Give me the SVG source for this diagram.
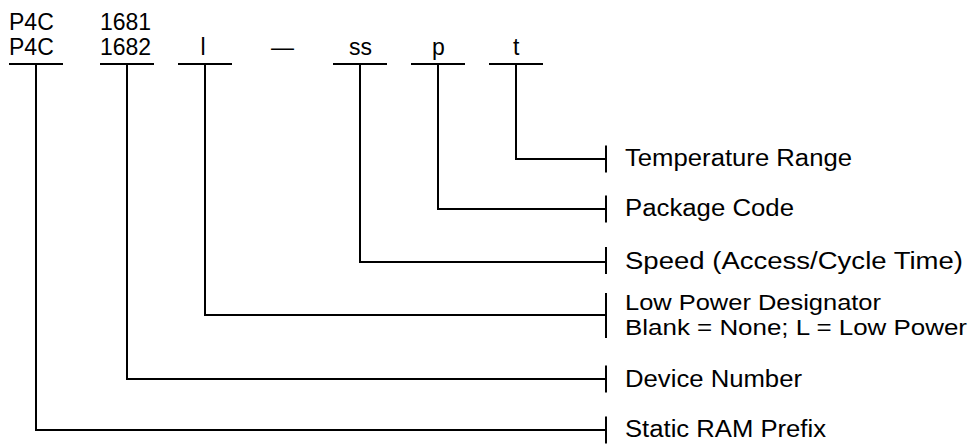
<svg xmlns="http://www.w3.org/2000/svg" width="969" height="444" viewBox="0 0 969 444">
<style>
.code{font-family:"Liberation Sans",Arial,sans-serif;font-size:23px;fill:#000}
.lbl{font-family:"Liberation Sans",Arial,sans-serif;font-size:23px;fill:#000}
.lbl2{font-family:"Liberation Sans",Arial,sans-serif;font-size:21.5px;fill:#000}
.ln{stroke:#000;stroke-width:2;fill:none}
</style>
<rect width="969" height="444" fill="#fff"/>
<g id="code-prefix">
<text class="code" x="9" y="30">P4C</text>
<text class="code" x="9" y="55">P4C</text>
<line class="ln" x1="9" y1="64" x2="63" y2="64"/>
</g>
<g id="code-device">
<text class="code" x="100" y="30">1681</text>
<text class="code" x="100" y="55">1682</text>
<line class="ln" x1="100" y1="64" x2="154" y2="64"/>
</g>
<g id="code-lowpower">
<text class="code" x="200.5" y="55">l</text>
<line class="ln" x1="178" y1="64" x2="232" y2="64"/>
</g>
<g id="code-dash">
<text class="code" x="271" y="55">—</text>
</g>
<g id="code-speed">
<text class="code" x="349" y="55">ss</text>
<line class="ln" x1="333" y1="64" x2="387" y2="64"/>
</g>
<g id="code-package">
<text class="code" x="432" y="55">p</text>
<line class="ln" x1="411" y1="64" x2="465" y2="64"/>
</g>
<g id="code-temp">
<text class="code" x="513" y="55">t</text>
<line class="ln" x1="489" y1="64" x2="543" y2="64"/>
</g>
<g id="connectors">
<path class="ln" d="M516 64 V159 H606"/>
<path class="ln" d="M438 64 V209 H606"/>
<path class="ln" d="M360 64 V262 H606"/>
<path class="ln" d="M205 64 V315 H606"/>
<path class="ln" d="M127 64 V379 H606"/>
<path class="ln" d="M36 64 V430 H606"/>
</g>
<g id="label-temp">
<line class="ln" x1="606" y1="145.5" x2="606" y2="172.5"/>
<text class="lbl" x="625" y="166" textLength="227" lengthAdjust="spacingAndGlyphs">Temperature Range</text>
</g>
<g id="label-package">
<line class="ln" x1="606" y1="195.5" x2="606" y2="222.5"/>
<text class="lbl" x="625" y="216" textLength="169" lengthAdjust="spacingAndGlyphs">Package Code</text>
</g>
<g id="label-speed">
<line class="ln" x1="606" y1="247" x2="606" y2="274"/>
<text class="lbl" x="625" y="269" textLength="338" lengthAdjust="spacingAndGlyphs">Speed (Access/Cycle Time)</text>
</g>
<g id="label-lowpower">
<line class="ln" x1="606" y1="293" x2="606" y2="338"/>
<text class="lbl2" x="625" y="310" textLength="256" lengthAdjust="spacingAndGlyphs">Low Power Designator</text>
<text class="lbl2" x="625" y="335" textLength="342" lengthAdjust="spacingAndGlyphs">Blank = None; L = Low Power</text>
</g>
<g id="label-device">
<line class="ln" x1="606" y1="365.5" x2="606" y2="392.5"/>
<text class="lbl" x="625" y="387" textLength="177" lengthAdjust="spacingAndGlyphs">Device Number</text>
</g>
<g id="label-prefix">
<line class="ln" x1="606" y1="416.5" x2="606" y2="443.5"/>
<text class="lbl" x="625" y="437" textLength="201" lengthAdjust="spacingAndGlyphs">Static RAM Prefix</text>
</g>
</svg>
